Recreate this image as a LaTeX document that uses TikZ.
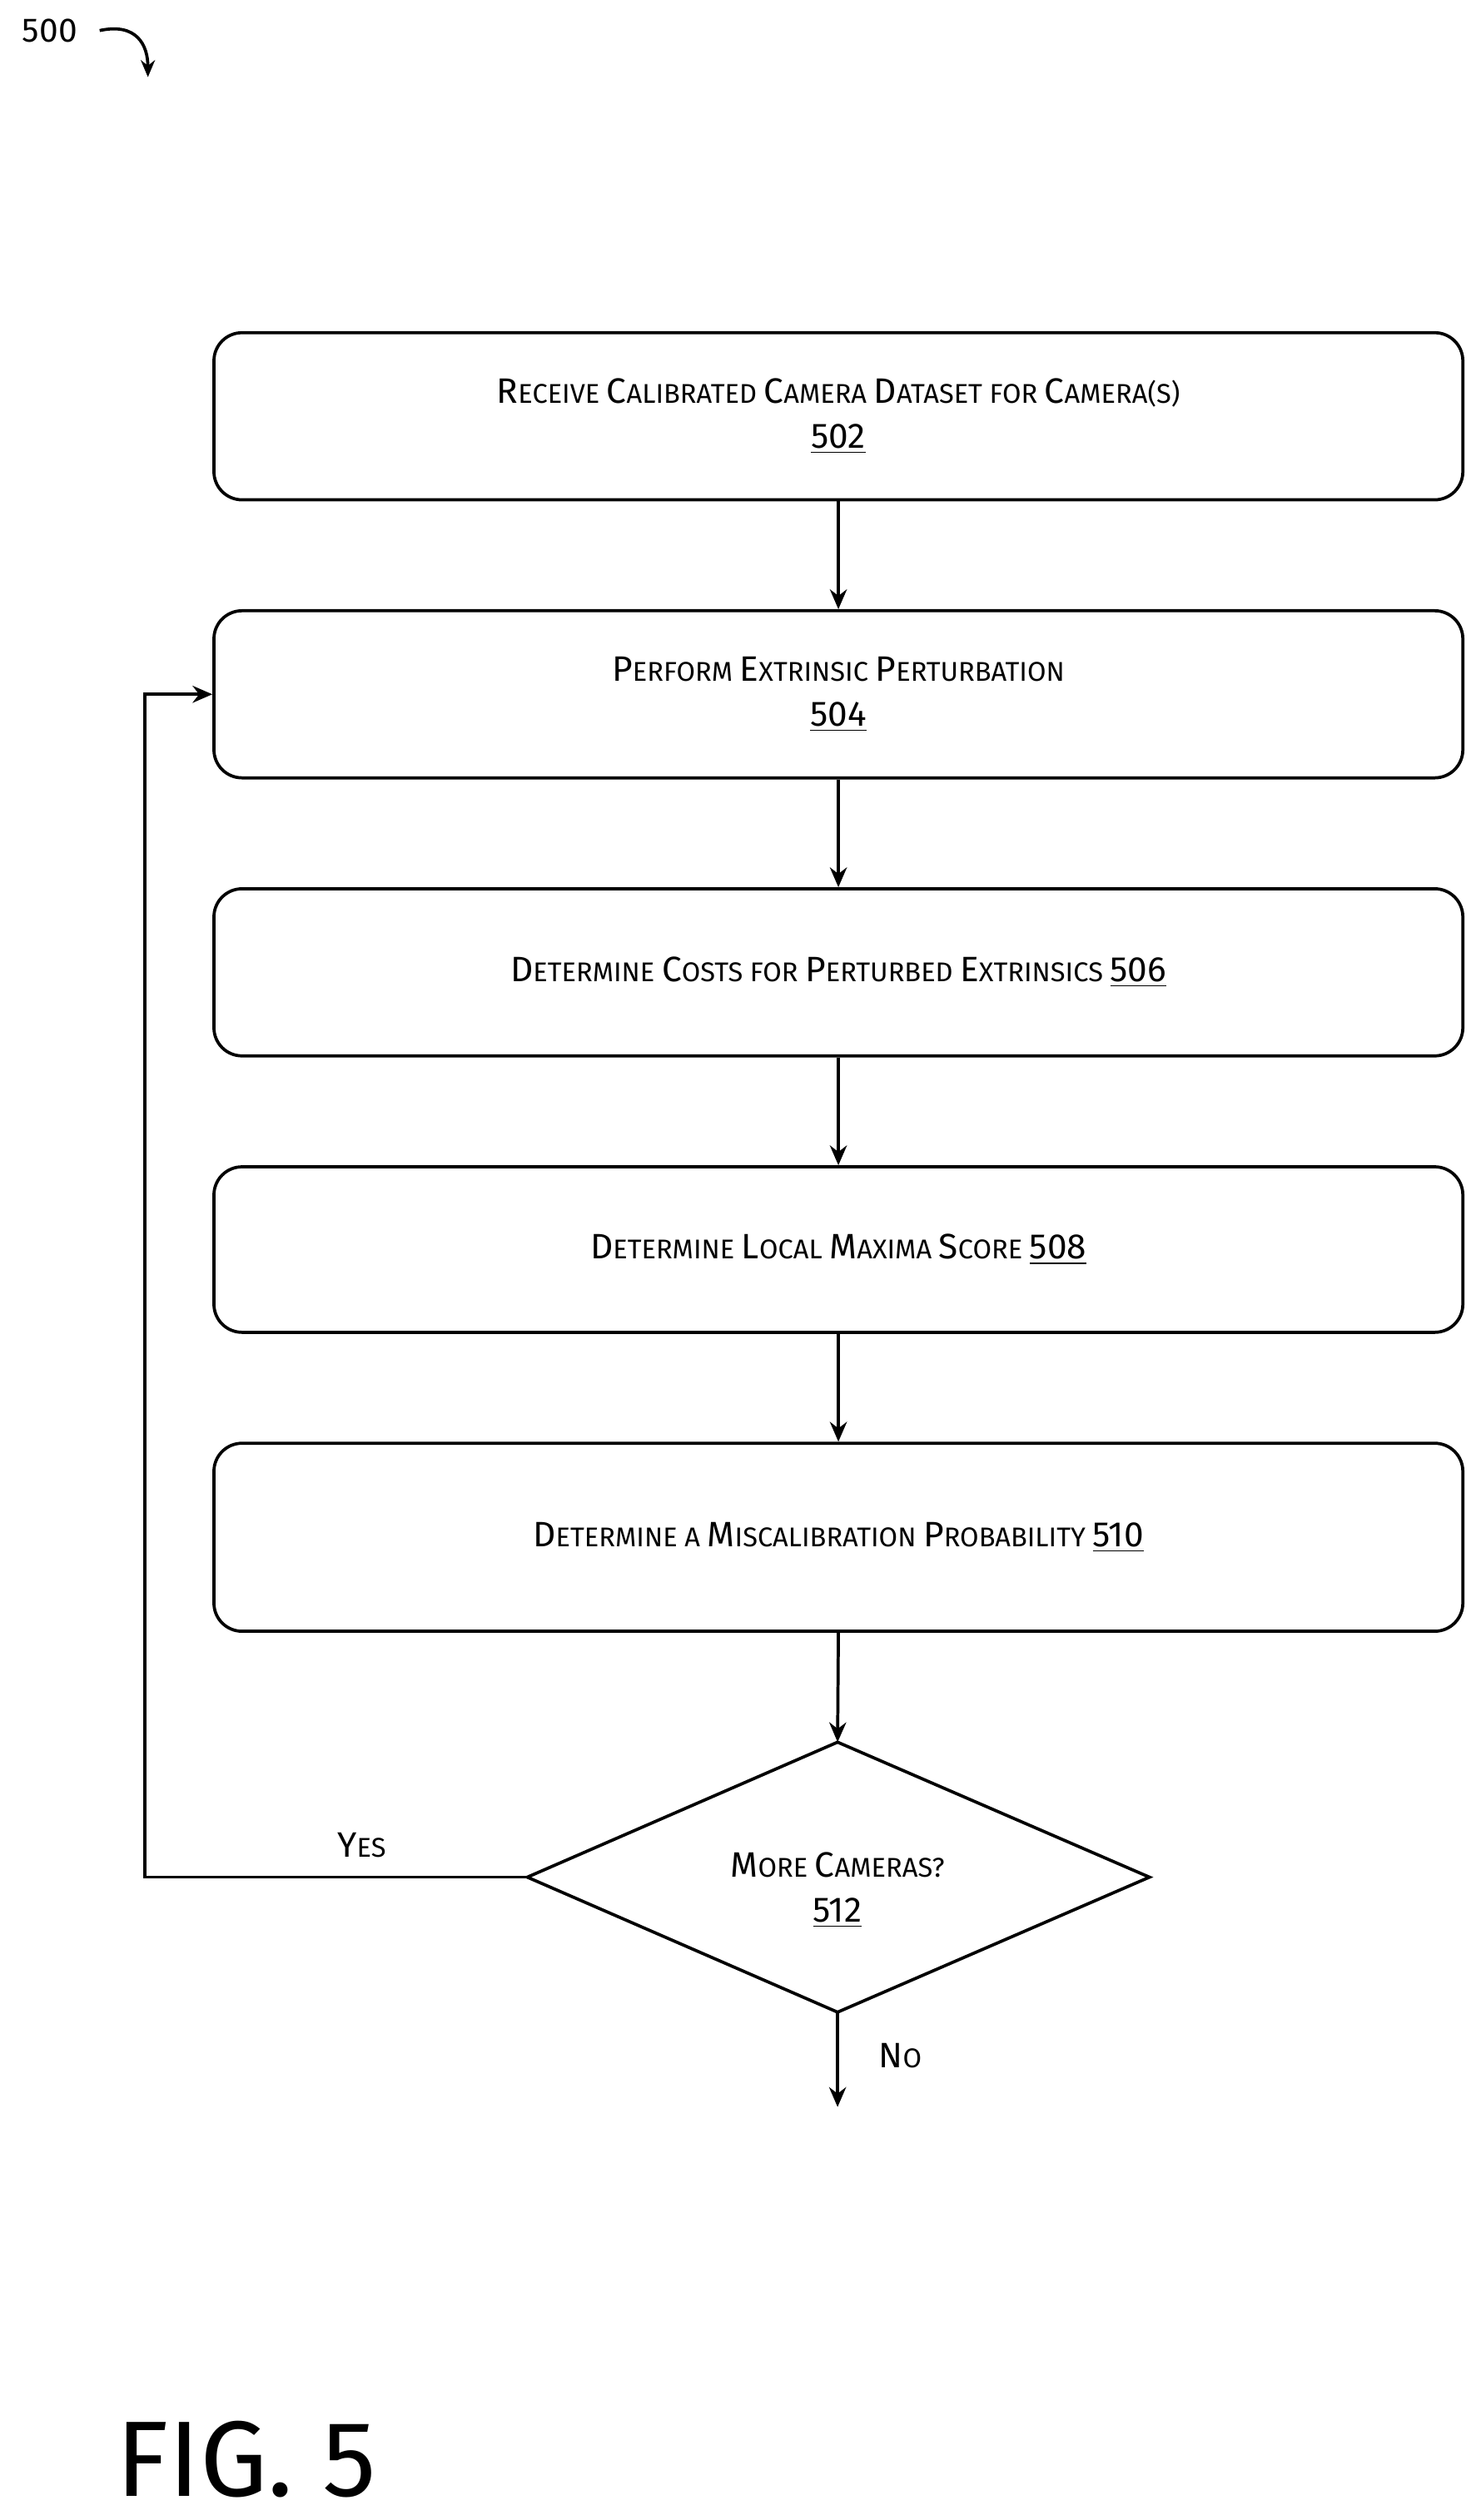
\documentclass[tikz,border=0pt]{standalone}
\usepackage{fontspec}
\setmainfont{Fira Sans}
\usetikzlibrary{arrows.meta,shapes.geometric}
\newcommand{\C}[1]{{\fontsize{12.5}{14}\selectfont #1}}
\begin{document}
\begin{tikzpicture}[x=0.02cm,y=-0.02cm,
  box/.style={draw,line width=1.1pt,rounded corners=0.35cm,minimum width=15.54cm,align=center,font=\fontsize{9.6}{16}\selectfont},
  ar/.style={line width=1.1pt,-{Stealth[length=7pt,width=6pt]}}]
\useasboundingbox (0,0) rectangle (921,1568);
\node[box,minimum height=2.08cm] (b1) at (521.5,259) {\C{R}ECEIVE \C{C}ALIBRATED \C{C}AMERA \C{D}ATASET FOR \C{C}AMERA(S)\\\C{\underline{502}}};
\node[box,minimum height=2.08cm] (b2) at (521.5,432) {\C{P}ERFORM \C{E}XTRINSIC \C{P}ERTURBATION\\\C{\underline{504}}};
\node[box,minimum height=2.08cm] (b3) at (521.5,605) {\C{D}ETERMINE \C{C}OSTS FOR \C{P}ERTURBED \C{E}XTRINSICS \C{\underline{506}}};
\node[box,minimum height=2.06cm] (b4) at (521.5,777.5) {\C{D}ETERMINE \C{L}OCAL \C{M}AXIMA \C{S}CORE \C{\underline{508}}};
\node[box,minimum height=2.34cm] (b5) at (521.5,956.5) {\C{D}ETERMINE A \C{M}ISCALIBRATION \C{P}ROBABILITY \C{\underline{510}}};
\coordinate (dt) at (521,1084); \coordinate (db) at (521,1252);
\coordinate (dl) at (328,1168); \coordinate (dr) at (715,1168);
\draw[line width=1.1pt] (dt)--(dr)--(db)--(dl)--cycle;
\node[align=center,font=\fontsize{9.6}{16}\selectfont] (d) at (521,1176) {\C{M}ORE \C{C}AMERAS?\\\C{\underline{512}}};
\draw[ar] (b1)--(b2); \draw[ar] (b2)--(b3); \draw[ar] (b3)--(b4); \draw[ar] (b4)--(b5);
\draw[ar] (b5.south)--(dt);
\coordinate (end) at (521,1311);
\draw[ar] (db)--(end);
\draw[ar] (dl)--(90,1168)--(90,432)--(b2.west);
\node[font=\fontsize{9.6}{12}\selectfont] (yes) at (225,1148) {\C{Y}ES};
\node[font=\fontsize{9.6}{12}\selectfont] (no) at (560,1279) {\C{N}O};
\node[font=\fontsize{12}{14}\selectfont] (n500) at (31,19) {500};
\coordinate (a5) at (92,48);
\draw[line width=1.1pt,-{Stealth[length=6pt,width=5pt]}] (62,19) .. controls (85,14) and (92,28) .. (a5);
\node[font=\fontsize{38}{40}\selectfont] (fig) at (153,1530) {FIG. 5};
\end{tikzpicture}
\end{document}
